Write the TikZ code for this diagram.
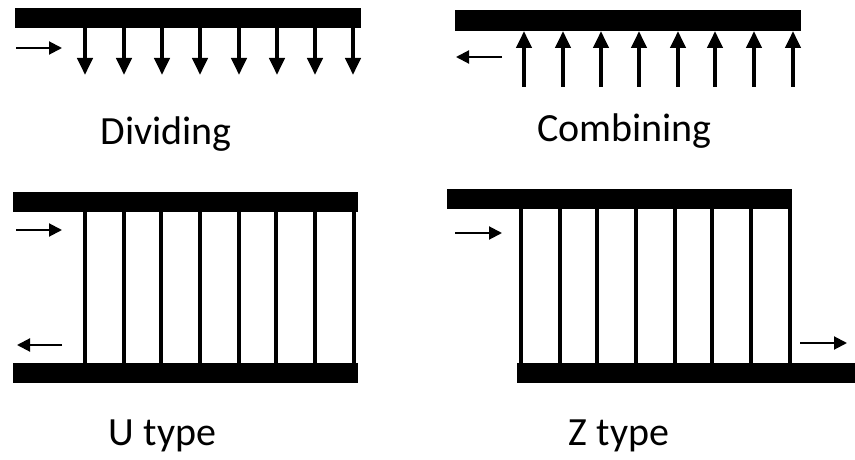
\documentclass[tikz,border=0pt]{standalone}
\usepackage{fontspec}
\setmainfont{Carlito}
\usetikzlibrary{arrows.meta}
\begin{document}
\begin{tikzpicture}[x=1pt,y=-1pt,
  bar/.style={fill=black,draw=none,rectangle,inner sep=0pt,outer sep=0pt},
  tube/.style={line width=4pt,line cap=butt},
  flow/.style={line width=4pt,-{Triangle[length=17pt,width=15pt]}},
  dir/.style={line width=2pt,-{Triangle[length=13pt,width=13pt]}},
  caption/.style={anchor=base,inner sep=0pt,font=\fontsize{40}{48}\selectfont}]
\useasboundingbox (0,0) rectangle (855,460);

% ---- dividing manifold ----
\node[bar,minimum width=346pt,minimum height=20pt] (dbar) at (188,18) {};
\foreach \x [count=\i] in {85,124,162,200,239,277,315,353} {
  \coordinate (dout\i) at (\x,75);
  \draw[flow] (dbar.south -| dout\i) -- (dout\i);
}
\coordinate (din0) at (16,48);
\coordinate (din1) at (62,48);
\draw[dir] (din0) -- (din1);
\node[caption] (dlab) at (166,144) {Dividing};

% ---- combining manifold ----
\node[bar,minimum width=346pt,minimum height=21pt] (cbar) at (628,20.5) {};
\foreach \x [count=\i] in {524,563,601,639,678,715,754,793} {
  \coordinate (cin\i) at (\x,87);
  \draw[flow] (cin\i) -- (cbar.south -| cin\i);
}
\coordinate (cout0) at (502,57);
\coordinate (cout1) at (456,57);
\draw[dir] (cout0) -- (cout1);
\node[caption] (clab) at (624.5,142) {Combining};

% ---- U type ----
\node[bar,minimum width=345pt,minimum height=20pt] (utop) at (185.5,202) {};
\node[bar,minimum width=345pt,minimum height=20pt] (ubot) at (185.5,373) {};
\foreach \x [count=\i] in {85,124,161,200,239,276,315,354} {
  \coordinate (ux\i) at (\x,300);
  \draw[tube] (utop.south -| ux\i) -- (ubot.north -| ux\i);
}
\coordinate (uin0) at (16,230);
\coordinate (uin1) at (62,230);
\draw[dir] (uin0) -- (uin1);
\coordinate (uout0) at (62,345);
\coordinate (uout1) at (17,345);
\draw[dir] (uout0) -- (uout1);
\node[caption] (ulab) at (162.5,445) {U type};

% ---- Z type ----
\node[bar,minimum width=345pt,minimum height=20pt] (ztop) at (619.5,199) {};
\node[bar,minimum width=338pt,minimum height=20pt] (zbot) at (686,373) {};
\foreach \x [count=\i] in {521,560,597,636,675,712,751,790} {
  \coordinate (zx\i) at (\x,300);
  \draw[tube] (ztop.south -| zx\i) -- (zbot.north -| zx\i);
}
\coordinate (zin0) at (455,233);
\coordinate (zin1) at (502,233);
\draw[dir] (zin0) -- (zin1);
\coordinate (zout0) at (800,343);
\coordinate (zout1) at (847,343);
\draw[dir] (zout0) -- (zout1);
\node[caption] (zlab) at (619,445) {Z type};
\end{tikzpicture}
\end{document}
